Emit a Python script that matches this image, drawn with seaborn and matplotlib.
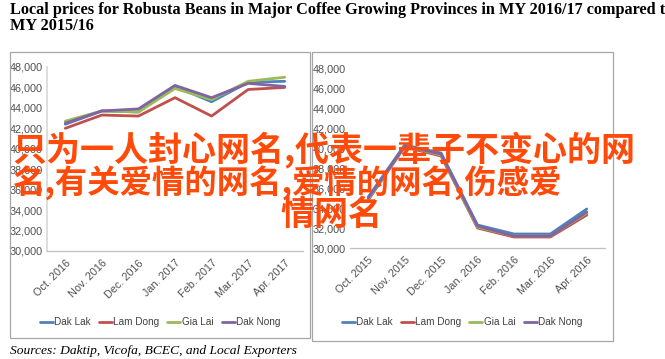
import pandas as pd
import numpy as np
import matplotlib
matplotlib.use("Agg")
import matplotlib.pyplot as plt
from matplotlib.patches import Rectangle
from matplotlib.ticker import FuncFormatter, MultipleLocator
import seaborn as sns

provinces = ['Dak Lak', 'Lam Dong', 'Gia Lai', 'Dak Nong']
colors = ['#4F81BD', '#C0504D', '#9BBB59', '#8064A2']

months_1617 = ['Oct. 2016', 'Nov. 2016', 'Dec. 2016', 'Jan. 2017', 'Feb. 2017', 'Mar. 2017', 'Apr. 2017']
months_1516 = ['Oct. 2015', 'Nov. 2015', 'Dec. 2015', 'Jan. 2016', 'Feb. 2016', 'Mar. 2016', 'Apr. 2016']

# MY 2016/17 prices (VND/kg)
dak_lak_1617 = [42400, 43700, 43600, 46100, 44600, 46500, 46600]
lam_dong_1617 = [42000, 43300, 43200, 45000, 43200, 45800, 46000]
gia_lai_1617 = [42700, 43700, 43600, 45900, 44800, 46600, 47000]
dak_nong_1617 = [42500, 43700, 43900, 46200, 45000, 46400, 46100]

# MY 2015/16 prices (VND/kg)
dak_lak_1516 = [35100, 40300, 39500, 32300, 31400, 31400, 33900]
lam_dong_1516 = [34800, 40100, 39200, 32000, 31100, 31100, 33300]
gia_lai_1516 = [34900, 40200, 39300, 32100, 31200, 31200, 33500]
dak_nong_1516 = [35000, 40200, 39400, 32200, 31200, 31200, 33600]

title = ('Local prices for Robusta Beans in Major Coffee Growing Provinces in MY 2016/17 compared to\n'
         'MY 2015/16')
source = 'Sources: Daktip, Vicofa, BCEC, and Local Exporters'
overlay = ['只为一人封心网名,代表一辈子不变心的网',
           '名,有关爱情的网名,爱情的网名,伤感爱',
           '情网名']


def long_df(months, series):
    rows = []
    for name, vals in zip(provinces, series):
        for m, v in zip(months, vals):
            rows.append({'month': m, 'price': v, 'province': name})
    return pd.DataFrame(rows)


df_a = long_df(months_1617, [dak_lak_1617, lam_dong_1617, gia_lai_1617, dak_nong_1617])
df_b = long_df(months_1516, [dak_lak_1516, lam_dong_1516, gia_lai_1516, dak_nong_1516])

sns.set_theme(style='white')
plt.rcParams['font.family'] = ['Liberation Sans Narrow', 'Liberation Sans', 'DejaVu Sans']

W, H = 665, 359
fig = plt.figure(figsize=(6.65, 3.59), dpi=100)
fig.patch.set_facecolor('white')


def px(x0, y0, x1, y1):
    return [x0 / W, 1 - y1 / H, (x1 - x0) / W, (y1 - y0) / H]


# panel frames
for (x0, y0, x1, y1) in [(10, 52, 310, 338), (312, 52, 613, 341)]:
    fig.add_artist(Rectangle((x0 / W, 1 - y1 / H), (x1 - x0) / W, (y1 - y0) / H,
                             transform=fig.transFigure, fill=False,
                             edgecolor='#A6A6A6', linewidth=0.9))

axes_specs = [
    (df_a, months_1617, px(47, 67, 303, 251), True, 160),
    (df_b, months_1516, px(350, 68, 605, 248), False, 462),
]

fmt = FuncFormatter(lambda v, p: f'{int(v):,}')

for data, months, rect, left_spine, leg_cx in axes_specs:
    ax = fig.add_axes(rect)
    sns.lineplot(data=data, x='month', y='price', hue='province',
                 hue_order=provinces, palette=colors, linewidth=2.0,
                 sort=False, ax=ax)
    ax.set_xlim(-0.5, 6.5)
    ax.set_ylim(30000, 48000)
    ax.yaxis.set_major_locator(MultipleLocator(2000))
    ax.yaxis.set_major_formatter(fmt)
    ax.set_xlabel('')
    ax.set_ylabel('')
    ax.set_facecolor('white')
    for s in ['top', 'right']:
        ax.spines[s].set_visible(False)
    ax.spines['bottom'].set_color('#BFBFBF')
    ax.spines['bottom'].set_linewidth(0.9)
    ax.spines['left'].set_visible(left_spine)
    ax.spines['left'].set_color('#D9D9D9')
    ax.tick_params(axis='both', length=0, labelsize=7.8, labelcolor='#505050')
    ax.tick_params(axis='y', pad=3)
    ax.tick_params(axis='x', pad=5)
    plt.setp(ax.get_xticklabels(), rotation=45, ha='right', rotation_mode='anchor')
    handles, labels = ax.get_legend_handles_labels()
    ax.get_legend().remove()
    ax.legend(handles, labels, loc='center', bbox_to_anchor=(leg_cx / W, 1 - 322 / H),
              bbox_transform=fig.transFigure, ncol=4, frameon=False,
              fontsize=7.2, handlelength=1.3, handletextpad=0.15, columnspacing=0.8,
              labelcolor='#404040')

fig.text(10 / W, 1 - 2 / H, title, ha='left', va='top', fontsize=11.7,
         family=['Liberation Serif'], weight='bold', color='black', linespacing=1.0)
fig.text(10 / W, 1 - 351 / H, source, ha='left', va='center', fontsize=9.7,
         family=['Liberation Serif'], style='italic', color='black')

cjk = ['Noto Sans CJK SC', 'DejaVu Sans']
fig.text(12 / W, 1 - 150 / H, overlay[0], ha='left', va='center', fontsize=24.5,
         family=cjk, weight='bold', color='#FF4A0A')
fig.text(12 / W, 1 - 183 / H, overlay[1], ha='left', va='center', fontsize=23.3,
         family=cjk, weight='bold', color='#FF4A0A')
fig.text(331 / W, 1 - 214 / H, overlay[2], ha='center', va='center', fontsize=24.5,
         family=cjk, weight='bold', color='#FF4A0A')

fig.savefig('out.png', dpi=100)
